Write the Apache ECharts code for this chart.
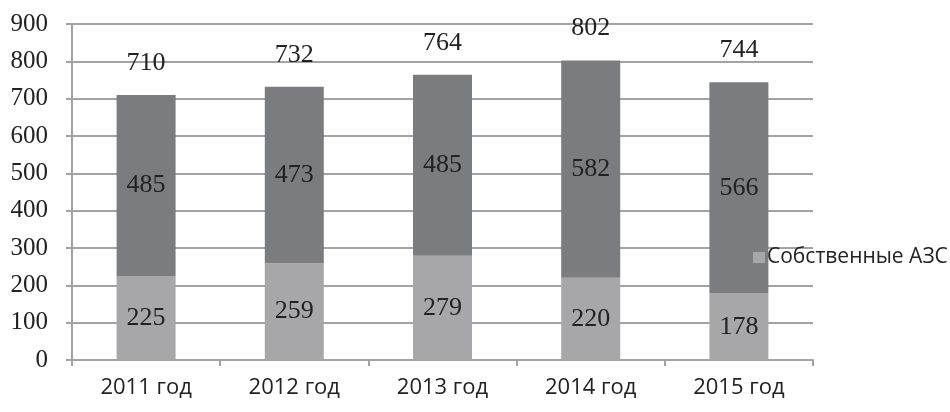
<!DOCTYPE html>
<html><head><meta charset="utf-8">
<script src="https://cdn.jsdelivr.net/npm/echarts@6/dist/echarts.min.js"></script>
<style>html,body{margin:0;padding:0;background:#fff}#c{width:950px;height:412px}</style>
</head><body><div id="c"></div>
<script>
const categories = ['2011 год', '2012 год', '2013 год', '2014 год', '2015 год'];
const ownStations = [225, 259, 279, 220, 178];
const otherStations = [485, 473, 485, 582, 566];
const yTicks = { min: 0, max: 900, interval: 100 };
const totals = ownStations.map((v, i) => v + otherStations[i]);

const serif = 'Liberation Serif';
const sans = 'Open Sans';
const chart = echarts.init(document.getElementById('c'));
chart.setOption({
  animation: false,
  backgroundColor: '#fff',
  grid: { left: 72, right: 137, top: 24, bottom: 52 },
  legend: {
    data: ['Собственные АЗС'],
    left: 748, top: 242, itemWidth: 12, itemHeight: 11, itemGap: 6,
    icon: 'rect',
    textStyle: { fontFamily: sans, fontSize: 21, color: '#222', padding: [0, 0, 0, -3] }
  },
  xAxis: {
    type: 'category', data: categories,
    axisLine: { lineStyle: { color: '#a3a3a3', width: 2 } },
    axisTick: { show: true, length: 6, lineStyle: { color: '#a3a3a3', width: 2 } },
    axisLabel: { fontFamily: sans, fontSize: 22, color: '#222', margin: 17 }
  },
  yAxis: {
    type: 'value', min: yTicks.min, max: yTicks.max, interval: yTicks.interval,
    axisLine: { show: true, lineStyle: { color: '#a3a3a3', width: 2 } },
    axisTick: { show: true, length: 6, lineStyle: { color: '#a3a3a3', width: 2 } },
    splitLine: { lineStyle: { color: '#a3a3a3', width: 2 } },
    axisLabel: { fontFamily: serif, fontSize: 25, color: '#222', margin: 24 }
  },
  series: [
    {
      name: 'Собственные АЗС', type: 'bar', stack: 's', data: ownStations,
      barWidth: 59, itemStyle: { color: '#a7a7a9' },
      label: { show: true, position: 'inside', fontFamily: serif, fontSize: 26, color: '#222' }
    },
    {
      name: 'Прочие АЗС', type: 'bar', stack: 's', data: otherStations,
      barWidth: 59, itemStyle: { color: '#7b7c80' },
      label: { show: true, position: 'inside', fontFamily: serif, fontSize: 26, color: '#222' }
    },
    {
      name: 'Итого', type: 'scatter', data: totals, symbolSize: 2,
      itemStyle: { color: 'rgba(0,0,0,0)' }, silent: true,
      label: { show: true, position: 'top', distance: 18, fontFamily: serif, fontSize: 26, color: '#222', opacity: 1 }
    }
  ]
});
</script></body></html>
